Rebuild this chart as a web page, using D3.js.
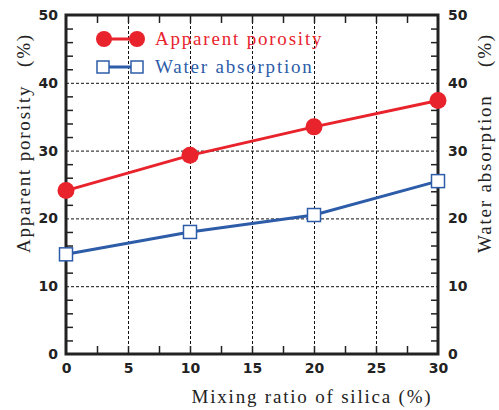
<!DOCTYPE html>
<html>
<head>
<meta charset="utf-8">
<script src="https://cdn.jsdelivr.net/npm/d3@7"></script>
<style>
  body { margin: 0; background: #fff; }
  svg { display: block; }
  .serif { font-family: "Liberation Serif", "Times New Roman", serif; font-size: 19px; letter-spacing: 1.8px; }
  .tick text { font-family: "DejaVu Sans", sans-serif; font-weight: bold; font-size: 14px; fill: #222; }
</style>
</head>
<body>
<script>
// silica mixing ratio (%) and measured values (%)
const silica     = [0, 10, 20, 30];
const porosity   = [24.1, 29.3, 33.5, 37.4];
const absorption = [14.7, 18.0, 20.5, 25.5];

const xTicks     = [0, 5, 10, 15, 20, 25, 30];
const yTicks     = [0, 10, 20, 30, 40, 50];
const xMinor     = [2.5, 5, 7.5, 10, 12.5, 15, 17.5, 20, 22.5, 25, 27.5];
const yMinor     = [2, 4, 6, 8, 12, 14, 16, 18, 22, 24, 26, 28, 32, 34, 36, 38, 42, 44, 46, 48];
const legendLabels = ['Apparent porosity', 'Water absorption'];

const width  = 499;
const height = 410;
const margin = {top: 15, right: 61, bottom: 56, left: 66};
const w = width - margin.left - margin.right;
const h = height - margin.top - margin.bottom;

const red  = '#e8232c';
const blue = '#2d5ca8';

const svg = d3.select('body').append('svg')
  .attr('width', width)
  .attr('height', height);

const g = svg.append('g')
  .attr('transform', 'translate(' + margin.left + ',' + margin.top + ')');

const x = d3.scaleLinear().domain([0, 30]).range([0, w]);
const y = d3.scaleLinear().domain([0, 50]).range([h, 0]);

// dashed grid
g.append('g')
  .attr('transform', 'translate(0,' + h + ')')
  .call(d3.axisBottom(x).tickValues([5, 10, 15, 20, 25]).tickSize(-h).tickFormat(''))
  .call(a => a.select('.domain').remove())
  .selectAll('line').attr('stroke', '#111').attr('stroke-width', 1).attr('stroke-dasharray', '3,2');

g.append('g')
  .call(d3.axisLeft(y).tickValues([10, 20, 30, 40]).tickSize(-w).tickFormat(''))
  .call(a => a.select('.domain').remove())
  .selectAll('line').attr('stroke', '#111').attr('stroke-width', 1).attr('stroke-dasharray', '3,2');

// inward minor ticks on all four sides
const tickStyle = a => {
  a.select('.domain').remove();
  a.selectAll('line').attr('stroke', '#222').attr('stroke-width', 1.5);
};
g.append('g').attr('transform', 'translate(0,' + h + ')')
  .call(d3.axisBottom(x).tickValues(xMinor).tickSize(-8).tickFormat('')).call(tickStyle);
g.append('g')
  .call(d3.axisTop(x).tickValues(xMinor).tickSize(-8).tickFormat('')).call(tickStyle);
g.append('g')
  .call(d3.axisLeft(y).tickValues(yMinor).tickSize(-7).tickFormat('')).call(tickStyle);
g.append('g').attr('transform', 'translate(' + w + ',0)')
  .call(d3.axisRight(y).tickValues(yMinor).tickSize(-7).tickFormat('')).call(tickStyle);

// tick labels
g.append('g').attr('transform', 'translate(0,' + h + ')')
  .call(d3.axisBottom(x).tickValues(xTicks).tickSize(0).tickPadding(9))
  .call(a => a.select('.domain').remove());
g.append('g')
  .call(d3.axisLeft(y).tickValues(yTicks).tickSize(0).tickPadding(8))
  .call(a => a.select('.domain').remove());
g.append('g').attr('transform', 'translate(' + w + ',0)')
  .call(d3.axisRight(y).tickValues(yTicks).tickSize(0).tickPadding(10))
  .call(a => a.select('.domain').remove());

// frame
g.append('rect')
  .attr('width', w).attr('height', h)
  .attr('fill', 'none').attr('stroke', '#222').attr('stroke-width', 3);

// series
const line = d3.line().x(d => x(d[0])).y(d => y(d[1]));
const porData = silica.map((s, i) => [s, porosity[i]]);
const absData = silica.map((s, i) => [s, absorption[i]]);

g.append('path').datum(porData).attr('d', line)
  .attr('fill', 'none').attr('stroke', red).attr('stroke-width', 3);
g.selectAll('.por').data(porData).enter().append('circle')
  .attr('class', 'por')
  .attr('cx', d => x(d[0])).attr('cy', d => y(d[1])).attr('r', 8.5)
  .attr('fill', red);

g.append('path').datum(absData).attr('d', line)
  .attr('fill', 'none').attr('stroke', blue).attr('stroke-width', 3);
g.selectAll('.abs').data(absData).enter().append('rect')
  .attr('class', 'abs')
  .attr('x', d => x(d[0]) - 6.5).attr('y', d => y(d[1]) - 6.5)
  .attr('width', 13).attr('height', 13)
  .attr('fill', '#fff').attr('stroke', blue).attr('stroke-width', 1.5);

// legend
const lg = svg.append('g');
lg.append('line').attr('x1', 104).attr('x2', 137).attr('y1', 39).attr('y2', 39)
  .attr('stroke', red).attr('stroke-width', 3);
[104, 137].forEach(cx => lg.append('circle').attr('cx', cx).attr('cy', 39).attr('r', 8).attr('fill', red));
lg.append('text').attr('class', 'serif').attr('x', 155).attr('y', 45)
  .attr('fill', red).text(legendLabels[0]);

lg.append('line').attr('x1', 103).attr('x2', 137).attr('y1', 67).attr('y2', 67)
  .attr('stroke', blue).attr('stroke-width', 3);
[103, 137].forEach(cx => lg.append('rect').attr('x', cx - 6).attr('y', 61).attr('width', 12).attr('height', 12)
  .attr('fill', '#fff').attr('stroke', blue).attr('stroke-width', 1.5));
lg.append('text').attr('class', 'serif').attr('x', 155).attr('y', 73)
  .attr('fill', blue).text(legendLabels[1]);

// axis titles
svg.append('text').attr('class', 'serif').attr('fill', '#222')
  .attr('x', 312).attr('y', 403).attr('text-anchor', 'middle')
  .text('Mixing ratio of silica (%)');

svg.append('text').attr('class', 'serif').attr('fill', '#222')
  .attr('transform', 'translate(30,253) rotate(-90)')
  .text('Apparent porosity');
svg.append('text').attr('class', 'serif').attr('fill', '#222')
  .attr('transform', 'translate(30,33) rotate(-90)').attr('text-anchor', 'end')
  .text('(%)');

svg.append('text').attr('class', 'serif').attr('fill', '#222')
  .attr('transform', 'translate(491,253) rotate(-90)')
  .text('Water absorption');
svg.append('text').attr('class', 'serif').attr('fill', '#222')
  .attr('transform', 'translate(491,33) rotate(-90)').attr('text-anchor', 'end')
  .text('(%)');
</script>
</body>
</html>
